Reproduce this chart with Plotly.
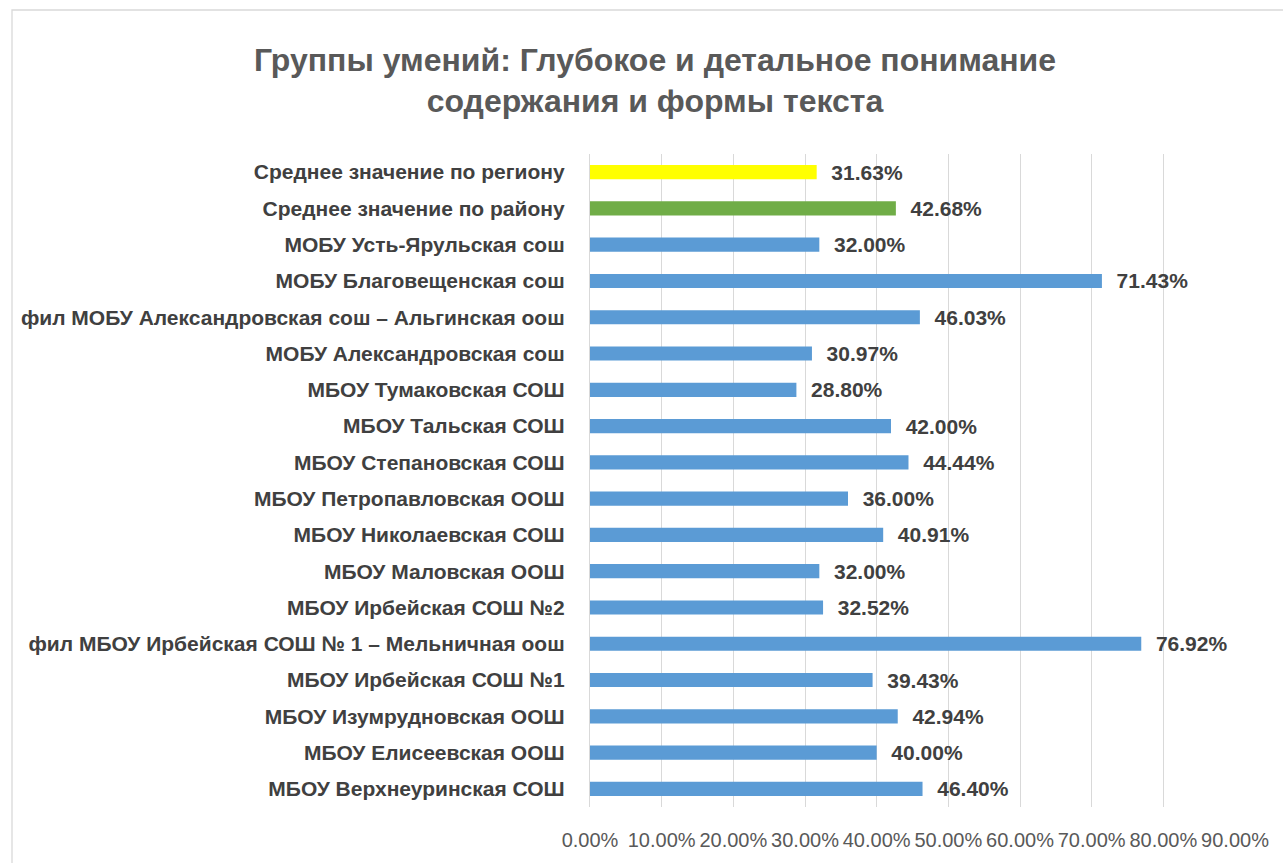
import plotly.graph_objects as go

categories = [
    "МБОУ Верхнеуринская СОШ",
    "МБОУ Елисеевская ООШ",
    "МБОУ Изумрудновская ООШ",
    "МБОУ Ирбейская СОШ №1",
    "фил МБОУ Ирбейская СОШ № 1 – Мельничная оош",
    "МБОУ Ирбейская СОШ №2",
    "МБОУ Маловская ООШ",
    "МБОУ Николаевская СОШ",
    "МБОУ Петропавловская ООШ",
    "МБОУ Степановская СОШ",
    "МБОУ Тальская СОШ",
    "МБОУ Тумаковская СОШ",
    "МОБУ Александровская сош",
    "фил МОБУ Александровская сош – Альгинская оош",
    "МОБУ Благовещенская сош",
    "МОБУ Усть-Ярульская сош",
    "Среднее значение по району",
    "Среднее значение по региону",
]
values = [46.40, 40.00, 42.94, 39.43, 76.92, 32.52, 32.00, 40.91, 36.00,
          44.44, 42.00, 28.80, 30.97, 46.03, 71.43, 32.00, 42.68, 31.63]
bar_colors = ["#5B9BD5"] * 16 + ["#70AD47", "#FFFF00"]
x_ticks = [0, 0.1, 0.2, 0.3, 0.4, 0.5, 0.6, 0.7, 0.8, 0.9]
x_tick_labels = ["0.00%", "10.00%", "20.00%", "30.00%", "40.00%",
                 "50.00%", "60.00%", "70.00%", "80.00%", "90.00%"]
title_text = "Группы умений: Глубокое и детальное понимание<br>содержания и формы текста"

FONT = "Liberation Sans, Arial, sans-serif"

fig = go.Figure(go.Bar(
    y=categories,
    x=[v / 100 for v in values],
    orientation="h",
    marker=dict(color=bar_colors, line=dict(width=0)),
    texttemplate="  %{x:.2%}",
    textposition="outside",
    constraintext="none",
    textfont=dict(family=FONT, size=21, color="#404040", weight="bold"),
    cliponaxis=False,
    width=0.39,
))

L, R, T, B = 590, 48, 154, 56
W, H = 1283, 863
pw = W - L - R
ph = H - T - B

fig.update_layout(
    width=W, height=H,
    margin=dict(l=L, r=R, t=T, b=B),
    paper_bgcolor="white", plot_bgcolor="white",
    showlegend=False,
    font=dict(family=FONT, color="#595959"),
    title=dict(
        text="<b>" + title_text + "</b>",
        xref="container", yref="container",
        x=655 / W, xanchor="center", y=0.918, yanchor="top",
        font=dict(family=FONT, size=32, color="#595959"),
    ),
    xaxis=dict(
        range=[0, 0.9],
        tickvals=x_ticks, ticktext=x_tick_labels,
        showgrid=True, gridcolor="#D9D9D9", gridwidth=1.3,
        zeroline=False, showline=False, ticks="",
        tickfont=dict(family=FONT, size=20, color="#595959"),
        ticklabelstandoff=19,
    ),
    yaxis=dict(
        type="category",
        categoryorder="array", categoryarray=categories,
        showgrid=False, zeroline=False,
        showline=True, linecolor="#D9D9D9", linewidth=1.3,
        ticks="",
        tickfont=dict(family=FONT, size=21, color="#404040", weight="bold"),
        ticklabelstandoff=20,
        range=[-0.5, len(categories) - 0.5],
    ),
    shapes=[dict(
        type="rect", xref="paper", yref="paper",
        x0=(12 - L) / pw, x1=(W + 5 - L) / pw,
        y0=-(B + 10) / ph, y1=(H - B - 10) / ph,
        line=dict(color="#D9D9D9", width=1.3), fillcolor="rgba(0,0,0,0)",
        layer="below",
    )],
)

fig.write_html("out.html", config={"displayModeBar": False},
               post_script="document.body.style.margin='0px';")
